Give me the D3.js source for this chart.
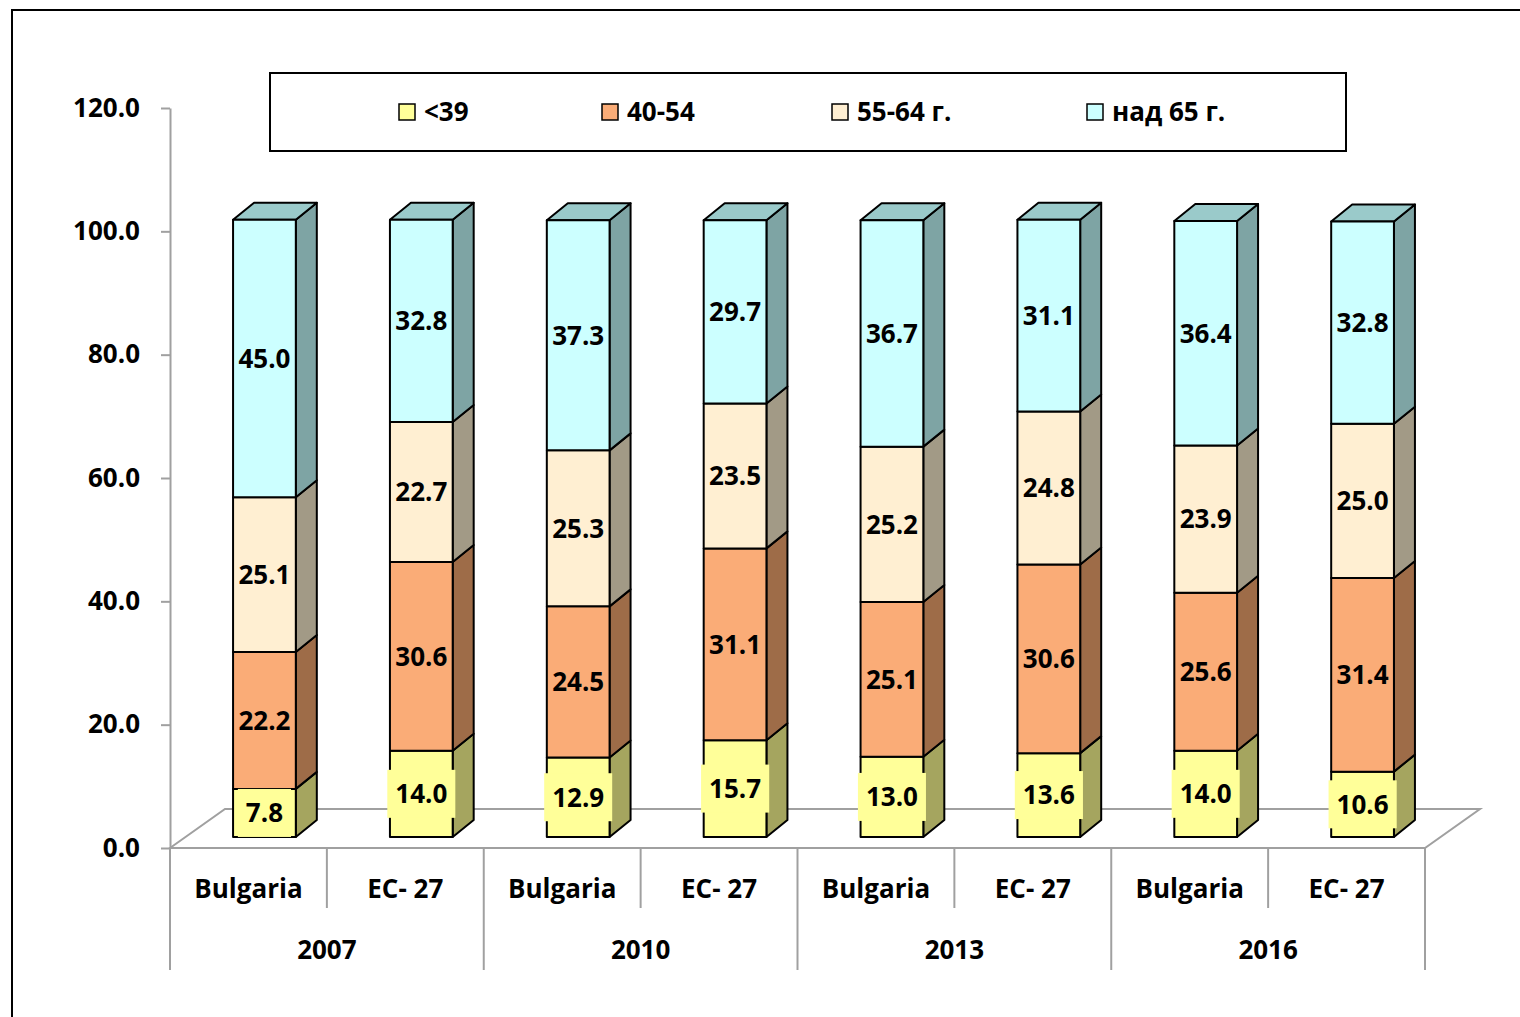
<!DOCTYPE html>
<html>
<head>
<meta charset="utf-8">
<script src="https://cdn.jsdelivr.net/npm/d3@7"></script>
<style>
  body { margin: 0; background: #fff; }
  svg { display: block; font-family: "Open Sans", Lato, sans-serif; font-weight: bold; }
</style>
</head>
<body>
<div class="chart"></div>
<script>
const years = ["2007", "2010", "2013", "2016"]
const countries = ["Bulgaria", "EC- 27"]
const seriesNames = ["<39", "40-54", "55-64 г.", "над 65 г."]

const under39  = [7.8, 14.0, 12.9, 15.7, 13.0, 13.6, 14.0, 10.6]
const age40_54 = [22.2, 30.6, 24.5, 31.1, 25.1, 30.6, 25.6, 31.4]
const age55_64 = [25.1, 22.7, 25.3, 23.5, 25.2, 24.8, 23.9, 25.0]
const over65   = [45.0, 32.8, 37.3, 29.7, 36.7, 31.1, 36.4, 32.8]

const yTicks = [0, 20, 40, 60, 80, 100, 120]

// front / side / top colours per series
const frontColors = ["#FFFF99", "#FAAC77", "#FFEFD2", "#CCFFFF"]
const sideColors  = ["#A5A55F", "#9E6C48", "#A29A86", "#7EA4A4"]
const topColors   = ["#C9C97A", "#C98A5E", "#D0C4AA", "#9ACACA"]

const width = 1520, height = 1017
const fontSize = "26px"

// build table
const keys = ["s0", "s1", "s2", "s3"]
const table = []
years.forEach((yr, i) => {
    countries.forEach((c, j) => {
        const k = i * 2 + j
        table.push({id: k, year: yr, country: c,
            s0: under39[k], s1: age40_54[k], s2: age55_64[k], s3: over65[k]})
    })
})
const stacked = d3.stack().keys(keys)(table)

const svg = d3.select(".chart").append("svg")
    .attr("width", width)
    .attr("height", height)

// outer frame
svg.append("path")
    .attr("d", `M12,${height} V10 H${width}`)
    .attr("fill", "none")
    .attr("stroke", "#000")
    .attr("stroke-width", 2)

const x = d3.scaleBand()
    .domain(table.map(d => d.id))
    .range([170, 1425])

const y = d3.scaleLinear()
    .domain([0, 120])
    .range([848, 108])

// 3d offsets
const floorDx = 55, floorDy = -39
const planeDx = 16, planeDy = -11
const depthDx = 21, depthDy = -17
const barW = x.bandwidth() * 0.4

const grey = "#A0A0A0"

// floor
const x0 = x.range()[0], x1 = x.range()[1], yb = y(0)
svg.append("path")
    .attr("d", `M${x0},${yb} L${x0 + floorDx},${yb + floorDy} L${x1 + floorDx},${yb + floorDy} L${x1},${yb} Z`)
    .attr("fill", "none")
    .attr("stroke", grey)
    .attr("stroke-width", 2)

// y axis
const yAxis = d3.axisLeft(y)
    .tickValues(yTicks)
    .tickFormat(d3.format(".1f"))
    .tickSizeInner(9)
    .tickSizeOuter(0)
    .tickPadding(21)

const axisG = svg.append("g")
    .attr("transform", `translate(${x0},0)`)
    .call(yAxis)
axisG.select(".domain").attr("stroke", grey).attr("stroke-width", 2)
axisG.selectAll(".tick line").attr("stroke", grey).attr("stroke-width", 2)
axisG.selectAll(".tick text")
    .attr("fill", "#000")
    .style("font-size", fontSize)
    .style("font-family", "'Open Sans', Lato, sans-serif")
    .style("font-weight", "bold")

// category separators
const sepG = svg.append("g").attr("stroke", grey).attr("stroke-width", 2)
table.forEach((d, i) => {
    const xl = x(d.id)
    sepG.append("line")
        .attr("x1", xl).attr("x2", xl)
        .attr("y1", yb).attr("y2", i % 2 === 0 ? 970 : 908)
})
sepG.append("line")
    .attr("x1", x1).attr("x2", x1)
    .attr("y1", yb).attr("y2", 970)

svg.selectAll(".cat")
    .data(table)
    .enter()
    .append("text")
        .attr("class", "cat")
        .attr("x", d => x(d.id) + x.bandwidth() / 2)
        .attr("y", 898)
        .attr("text-anchor", "middle")
        .style("font-size", fontSize)
        .text(d => d.country)

svg.selectAll(".year")
    .data(years)
    .enter()
    .append("text")
        .attr("class", "year")
        .attr("x", (d, i) => x(i * 2) + x.bandwidth())
        .attr("y", 959)
        .attr("text-anchor", "middle")
        .style("font-size", fontSize)
        .text(d => d)

// bars
const barsG = svg.append("g")
table.forEach((d, i) => {
    const bx = x(d.id) + x.bandwidth() / 2 - barW / 2 + planeDx
    stacked.forEach((s, k) => {
        const seg = s[i]
        const yt = y(seg[1]) + planeDy, ybt = y(seg[0]) + planeDy
        const g = barsG.append("g")
            .attr("stroke", "#000")
            .attr("stroke-width", 2)
            .attr("stroke-linejoin", "round")
        g.append("path")
            .attr("d", `M${bx + barW},${ybt} L${bx + barW + depthDx},${ybt + depthDy} L${bx + barW + depthDx},${yt + depthDy} L${bx + barW},${yt} Z`)
            .attr("fill", sideColors[k])
        if (k === keys.length - 1) {
            g.append("path")
                .attr("d", `M${bx},${yt} L${bx + depthDx},${yt + depthDy} L${bx + barW + depthDx},${yt + depthDy} L${bx + barW},${yt} Z`)
                .attr("fill", topColors[k])
        }
        g.append("rect")
            .attr("x", bx)
            .attr("y", yt)
            .attr("width", barW)
            .attr("height", ybt - yt)
            .attr("fill", frontColors[k])
    })
})

// value labels
const labelsG = svg.append("g")
table.forEach((d, i) => {
    const cx = x(d.id) + x.bandwidth() / 2 + planeDx
    stacked.forEach((s, k) => {
        const seg = s[i]
        const cy = y((seg[0] + seg[1]) / 2) + planeDy
        const t = labelsG.append("text")
            .attr("x", cx)
            .attr("y", cy)
            .attr("dy", "0.36em")
            .attr("text-anchor", "middle")
            .style("font-size", fontSize)
            .text(d3.format(".1f")(seg[1] - seg[0]))
        if (k === 0) {
            const bb = t.node().getBBox()
            labelsG.insert("rect", () => t.node())
                .attr("x", bb.x - 8)
                .attr("y", cy - 24)
                .attr("width", bb.width + 16)
                .attr("height", 48)
                .attr("fill", frontColors[0])
        }
    })
})

// legend
const legend = svg.append("g")
legend.append("rect")
    .attr("x", 270).attr("y", 73)
    .attr("width", 1076).attr("height", 78)
    .attr("fill", "#fff")
    .attr("stroke", "#000")
    .attr("stroke-width", 2)

const legendX = [399, 602, 832, 1087]
seriesNames.forEach((name, k) => {
    legend.append("rect")
        .attr("x", legendX[k]).attr("y", 104)
        .attr("width", 16).attr("height", 16)
        .attr("fill", frontColors[k])
        .attr("stroke", "#000")
        .attr("stroke-width", 1.5)
    legend.append("text")
        .attr("x", legendX[k] + 25)
        .attr("y", 112)
        .attr("dy", "0.36em")
        .style("font-size", fontSize)
        .text(name)
})
</script>
</body>
</html>
